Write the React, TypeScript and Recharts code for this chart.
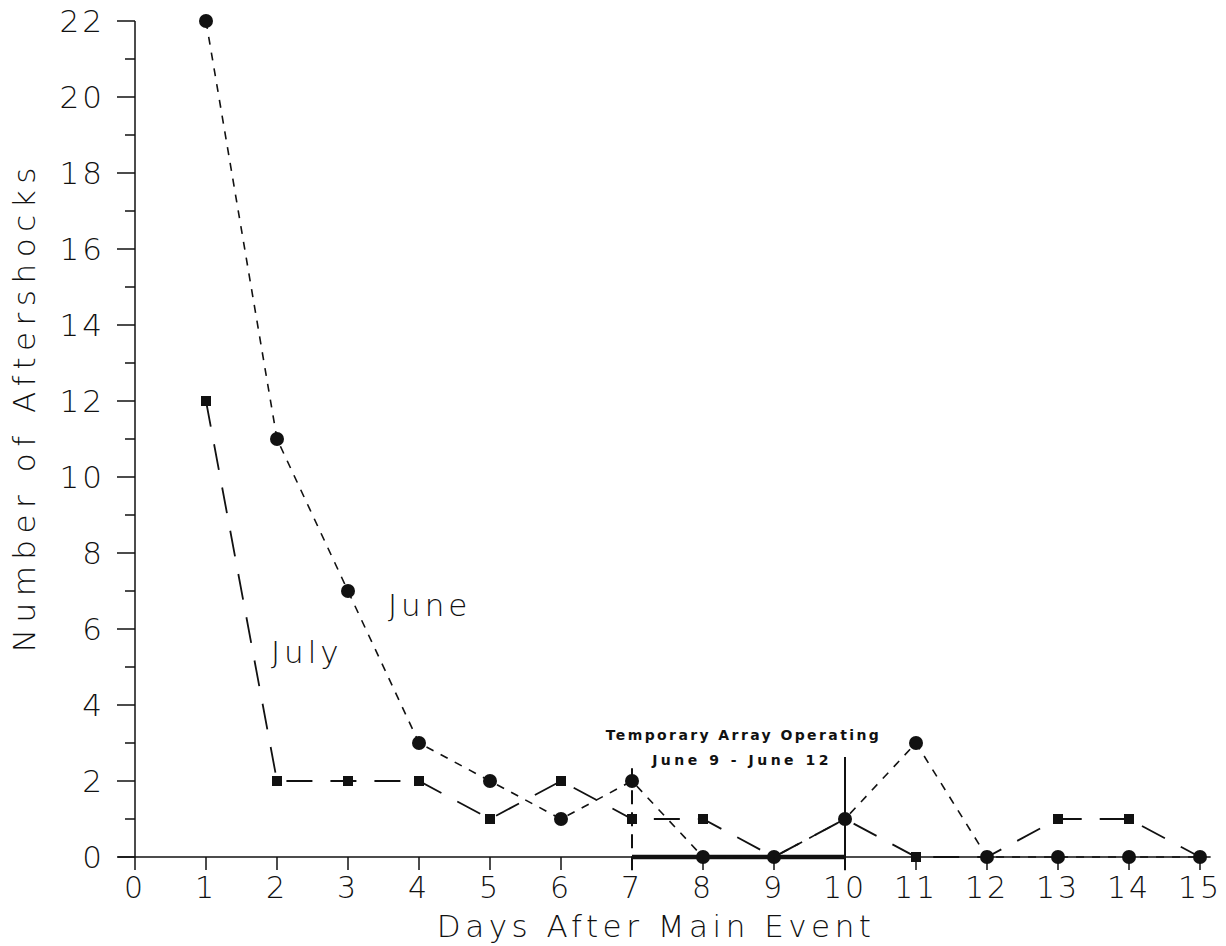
import React from 'react';
import { LineChart, Line, XAxis, YAxis, ReferenceLine, ReferenceDot } from 'recharts';

const days = [1, 2, 3, 4, 5, 6, 7, 8, 9, 10, 11, 12, 13, 14, 15];
const june = [22, 11, 7, 3, 2, 1, 2, 0, 0, 1, 3, 0, 0, 0, 0];
const july = [12, 2, 2, 2, 1, 2, 1, 1, 0, 1, 0, 0, 1, 1, 0];
const xTicks = [0, 1, 2, 3, 4, 5, 6, 7, 8, 9, 10, 11, 12, 13, 14, 15];
const yTicks = Array.from({ length: 23 }, (_, i) => i);

const data = days.map((d, i) => ({ day: d, june: june[i], july: july[i] }));

const ink = '#111';
const font = '"DejaVu Sans", sans-serif';

const XTick = (props: any) => {
  const { x, y, payload } = props;
  return (
    <g>
      <line x1={x} y1={y} x2={x} y2={y + 13} stroke={ink} strokeWidth={1.5} />
      <text
        x={x}
        y={y + 41}
        textAnchor="middle"
        fontSize={30}
        fontWeight={200}
        fontFamily={font}
        letterSpacing={3}
        fill={ink}
      >
        {payload.value}
      </text>
    </g>
  );
};

const YTick = (props: any) => {
  const { x, y, payload } = props;
  const major = payload.value % 2 === 0;
  return (
    <g>
      <line x1={x - (major ? 18 : 10)} y1={y} x2={x} y2={y} stroke={ink} strokeWidth={1.5} />
      {major && (
        <text
          x={x - 30}
          y={y + 11}
          textAnchor="end"
          fontSize={31}
          fontWeight={200}
          fontFamily={font}
          letterSpacing={3}
          fill={ink}
        >
          {payload.value}
        </text>
      )}
    </g>
  );
};

const Square = (props: any) => {
  const { cx, cy } = props;
  return <rect x={cx - 5} y={cy - 5} width={10} height={10} fill={ink} />;
};

const textAt =
  (value: string, size: number, weight: number | string, spacing = 0, angle = 0) =>
  (p: any) => (
    <text
      x={p.cx}
      y={p.cy}
      transform={angle ? `rotate(${angle} ${p.cx} ${p.cy})` : undefined}
      textAnchor="middle"
      dominantBaseline="central"
      fontSize={size}
      fontWeight={weight}
      fontFamily={font}
      letterSpacing={spacing}
      fill={ink}
    >
      {value}
    </text>
  );

export default function App() {
  return (
    <div style={{ position: 'absolute', left: 0, top: 0, background: '#fff' }}>
      <LineChart
        width={1226}
        height={946}
        data={data}
        margin={{ top: 21, right: 26, left: 55, bottom: 4 }}
      >
        <XAxis
          dataKey="day"
          type="number"
          domain={[0, 15]}
          ticks={xTicks}
          interval={0}
          axisLine={false}
          tickLine={false}
          tickSize={0}
          tickMargin={0}
          tick={<XTick />}
          height={85}
        />
        <YAxis
          domain={[0, 22]}
          ticks={yTicks}
          interval={0}
          axisLine={{ stroke: ink, strokeWidth: 1.5 }}
          tickLine={false}
          tickSize={0}
          tickMargin={0}
          tick={<YTick />}
          width={80}
        />
        <ReferenceLine
          segment={[{ x: -0.24, y: 0 }, { x: 15.15, y: 0 }]}
          ifOverflow="visible"
          stroke={ink}
          strokeWidth={1.5}
        />
        <ReferenceLine
          segment={[{ x: 7, y: 0 }, { x: 10, y: 0 }]}
          ifOverflow="visible"
          stroke={ink}
          strokeWidth={4.5}
        />
        <ReferenceLine
          segment={[{ x: 7, y: -0.35 }, { x: 7, y: 2.5 }]}
          ifOverflow="visible"
          stroke={ink}
          strokeWidth={2}
          strokeDasharray="14 8"
        />
        <ReferenceLine
          segment={[{ x: 10, y: -0.35 }, { x: 10, y: 2.63 }]}
          ifOverflow="visible"
          stroke={ink}
          strokeWidth={2}
        />
        <Line
          type="linear"
          dataKey="july"
          stroke={ink}
          strokeWidth={1.8}
          strokeDasharray="26 18"
          dot={<Square />}
          activeDot={false}
          isAnimationActive={false}
        />
        <Line
          type="linear"
          dataKey="june"
          stroke={ink}
          strokeWidth={1.6}
          strokeDasharray="8 8"
          dot={{ r: 7, fill: ink, stroke: ink, strokeWidth: 0 }}
          activeDot={false}
          isAnimationActive={false}
        />
        <ReferenceDot x={4.15} y={6.63} r={0} ifOverflow="visible" shape={textAt('June', 31, 200, 4)} />
        <ReferenceDot x={2.42} y={5.4} r={0} ifOverflow="visible" shape={textAt('July', 31, 200, 4)} />
        <ReferenceDot
          x={8.57}
          y={3.2}
          r={0}
          ifOverflow="visible"
          shape={textAt('Temporary Array Operating', 14, 'bold', 2.4)}
        />
        <ReferenceDot
          x={8.55}
          y={2.55}
          r={0}
          ifOverflow="visible"
          shape={textAt('June 9 - June 12', 14, 'bold', 3.5)}
        />
        <ReferenceDot
          x={7.34}
          y={-1.81}
          r={0}
          ifOverflow="visible"
          shape={textAt('Days After Main Event', 31, 200, 4.5)}
        />
        <ReferenceDot
          x={-1.56}
          y={11.85}
          r={0}
          ifOverflow="visible"
          shape={textAt('Number of Aftershocks', 31, 200, 6.5, -90)}
        />
      </LineChart>
    </div>
  );
}
